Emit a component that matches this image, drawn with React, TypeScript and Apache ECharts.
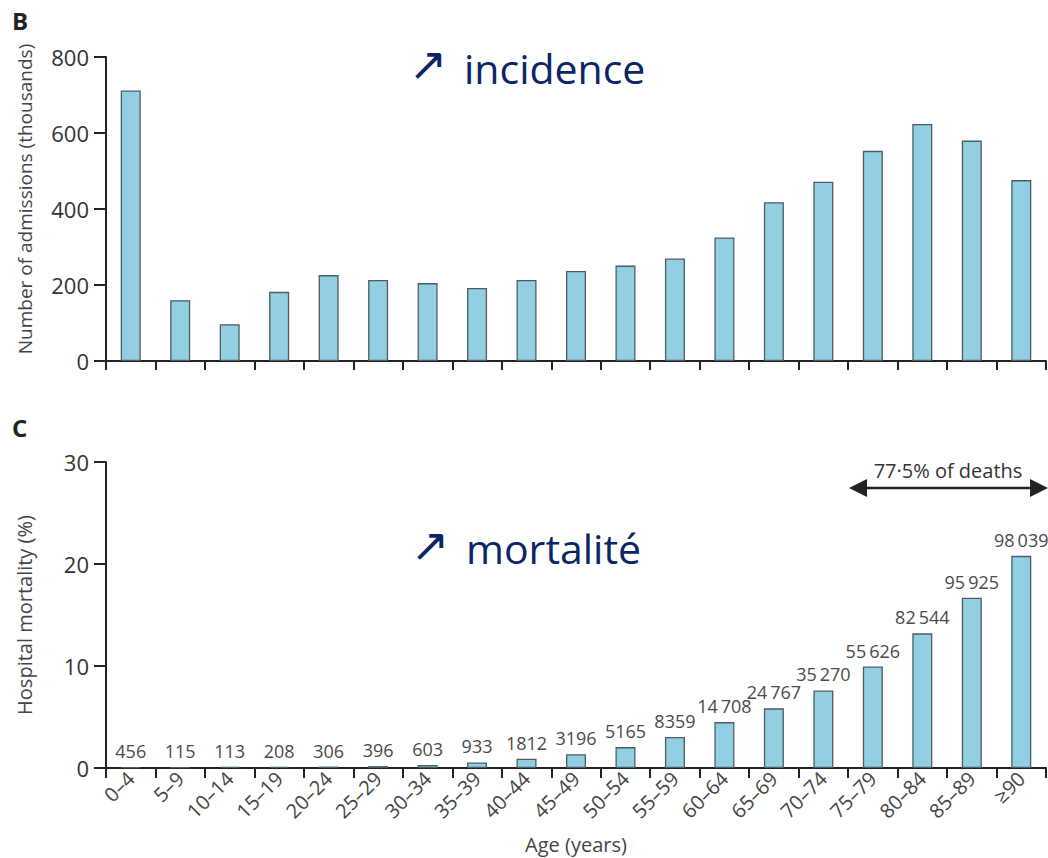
import React, { useEffect, useRef } from "react";
import * as echarts from "echarts";

const categories = ["0–4", "5–9", "10–14", "15–19", "20–24", "25–29", "30–34", "35–39", "40–44", "45–49", "50–54", "55–59", "60–64", "65–69", "70–74", "75–79", "80–84", "85–89", "≥90"];
const admissions = [712, 160, 97, 182, 226, 213, 205, 192, 213, 237, 251, 270, 325, 418, 472, 553, 624, 580, 476];
const mortality = [0.07, 0.08, 0.12, 0.12, 0.14, 0.19, 0.3, 0.55, 0.9, 1.35, 2.05, 3.05, 4.5, 5.85, 7.6, 9.95, 13.2, 16.7, 20.8];
const deaths = ["456", "115", "113", "208", "306", "396", "603", "933", "1812", "3196", "5165", "8359", "14\u2009708", "24\u2009767", "35\u2009270", "55\u2009626", "82\u2009544", "95\u2009925", "98\u2009039"];
const admissionTicks = { min: 0, max: 800, interval: 200 };
const mortalityTicks = { min: 0, max: 30, interval: 10 };

const FONT = "Open Sans";
const BAR_FILL = "#92cfe3";
const BAR_BORDER = "#4d5c62";
const AXIS = "#222";
const NAVY = "#0b2566";

export default function App() {
  const ref = useRef<HTMLDivElement>(null);
  useEffect(() => {
    if (!ref.current) return;
    const chart = echarts.init(ref.current, null, { renderer: "svg" });
    const axisLine = { show: true, lineStyle: { color: AXIS, width: 2 } };
    const option: any = {
      animation: false,
      backgroundColor: "#fff",
      textStyle: { fontFamily: FONT },
      grid: [
        { left: 106, top: 57, width: 940, height: 304 },
        { left: 106, top: 462, width: 940, height: 306 },
      ],
      xAxis: [
        {
          type: "category",
          gridIndex: 0,
          data: categories,
          axisLine,
          axisTick: { show: true, length: 9, lineStyle: { color: AXIS, width: 2 } },
          axisLabel: { show: false },
        },
        {
          type: "category",
          gridIndex: 1,
          data: categories,
          axisLine,
          axisTick: { show: true, length: 10, lineStyle: { color: AXIS, width: 2 } },
          axisLabel: { rotate: 45, margin: 7, fontSize: 20, color: "#444", fontFamily: FONT },
          name: "Age (years)",
          nameLocation: "middle",
          nameGap: 66,
          nameTextStyle: { fontSize: 20, color: "#444", fontFamily: FONT },
        },
      ],
      yAxis: [
        {
          type: "value",
          gridIndex: 0,
          ...admissionTicks,
          axisLine,
          axisTick: { show: true, length: 12, lineStyle: { color: AXIS, width: 2 } },
          axisLabel: { margin: 17, fontSize: 22, color: "#333", fontFamily: FONT },
          splitLine: { show: false },
        },
        {
          type: "value",
          gridIndex: 1,
          ...mortalityTicks,
          axisLine,
          axisTick: { show: true, length: 12, lineStyle: { color: AXIS, width: 2 } },
          axisLabel: { margin: 17, fontSize: 22, color: "#333", fontFamily: FONT },
          splitLine: { show: false },
          name: "Hospital mortality (%)",
          nameLocation: "middle",
          nameGap: 72,
          nameTextStyle: { fontSize: 20, color: "#444", fontFamily: FONT },
        },
      ],
      series: [
        {
          type: "bar",
          xAxisIndex: 0,
          yAxisIndex: 0,
          data: admissions,
          barWidth: 20,
          itemStyle: { color: BAR_FILL, borderColor: BAR_BORDER, borderWidth: 1.3 },
        },
        {
          type: "bar",
          xAxisIndex: 1,
          yAxisIndex: 1,
          data: mortality,
          barWidth: 20,
          itemStyle: { color: BAR_FILL, borderColor: BAR_BORDER, borderWidth: 1.3 },
          label: {
            show: true,
            position: "top",
            distance: 7,
            fontSize: 18,
            color: "#4a4a4a",
            fontFamily: FONT,
            formatter: (p: any) => deaths[p.dataIndex],
          },
        },
      ],
      graphic: [
        { type: "text", left: 12, top: 8, style: { text: "B", fontSize: 24, fontWeight: "bold", fill: "#222", fontFamily: FONT } },
        { type: "text", left: 12, top: 415, style: { text: "C", fontSize: 24, fontWeight: "bold", fill: "#222", fontFamily: FONT } },
        { type: "text", x: 25, y: 199, rotation: Math.PI / 2, style: { text: "Number of admissions (thousands)", fontSize: 19, fill: "#444", fontFamily: FONT, verticalAlign: "middle", align: "center" } },
        { type: "text", x: 409, y: 64, style: { text: "↗", fontSize: 46, fill: NAVY, fontFamily: "DejaVu Sans", verticalAlign: "middle", align: "left" } },
        { type: "text", x: 464, y: 68, style: { text: "incidence", fontSize: 41, fill: NAVY, fontFamily: FONT, verticalAlign: "middle", align: "left" } },
        { type: "text", x: 411, y: 545, style: { text: "↗", fontSize: 46, fill: NAVY, fontFamily: "DejaVu Sans", verticalAlign: "middle", align: "left" } },
        { type: "text", x: 466, y: 548, style: { text: "mortalité", fontSize: 41, fill: NAVY, fontFamily: FONT, verticalAlign: "middle", align: "left" } },
        { type: "text", x: 948, y: 470, style: { text: "77·5% of deaths", fontSize: 20, fill: "#333", fontFamily: FONT, verticalAlign: "middle", align: "center" } },
        { type: "line", shape: { x1: 862, y1: 488, x2: 1036, y2: 488 }, style: { stroke: "#222", lineWidth: 2.5 } },
        { type: "polygon", shape: { points: [[849, 488], [867, 479], [867, 497]] }, style: { fill: "#222" } },
        { type: "polygon", shape: { points: [[1048, 488], [1030, 479], [1030, 497]] }, style: { fill: "#222" } },
      ],
    };
    chart.setOption(option);
    return () => chart.dispose();
  }, []);
  return <div ref={ref} style={{ position: "absolute", left: 0, top: 0, width: 1048, height: 858 }} />;
}
